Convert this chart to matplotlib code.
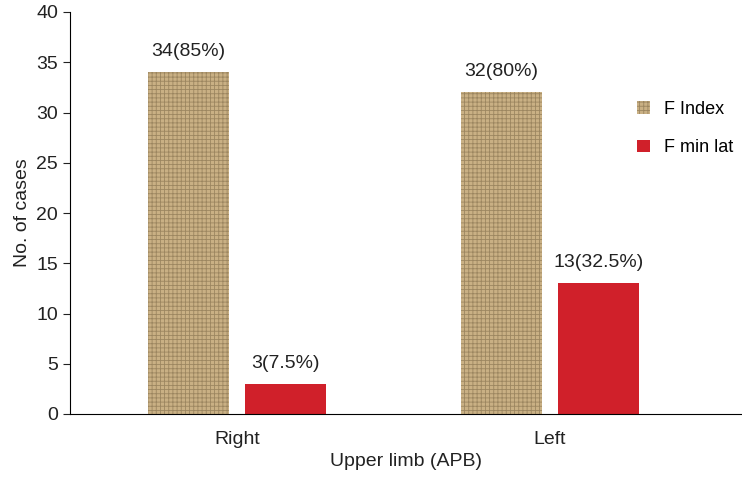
import matplotlib
matplotlib.use("Agg")
import matplotlib.pyplot as plt
import numpy as np

plt.rcParams['font.family'] = 'Liberation Sans'
plt.rcParams['hatch.color'] = '#8a7550'
plt.rcParams['hatch.linewidth'] = 0.6

categories = ["Right", "Left"]
f_index = [34, 32]
f_min_lat = [3, 13]
f_index_labels = ["34(85%)", "32(80%)"]
f_min_lat_labels = ["3(7.5%)", "13(32.5%)"]

fig = plt.figure(figsize=(7.42, 4.93), dpi=100)
ax = fig.add_axes([70/742, 1-414/493, 672/742, (414-12)/493])
x = np.arange(len(categories))
w = 0.26
off = 0.155
b1 = ax.bar(x - off, f_index, w, color='#c9b084', hatch='++++', edgecolor='#9c8660', linewidth=0, label='F Index')
b2 = ax.bar(x + off, f_min_lat, w, color='#d0202a', label='F min lat')
for xi, v, t in zip(x - off, f_index, f_index_labels):
    ax.text(xi, v + 1.2, t, ha='center', va='bottom', fontsize=14, color='#222')
for xi, v, t in zip(x + off, f_min_lat, f_min_lat_labels):
    ax.text(xi, v + 1.2, t, ha='center', va='bottom', fontsize=14, color='#222')
ax.set_xlim(-0.535, 1.615)
ax.set_ylim(0, 40)
ax.set_yticks(range(0, 41, 5))
ax.set_xticks(x)
ax.set_xticklabels(categories)
ax.tick_params(labelsize=14, colors='#222', length=5)
ax.tick_params(axis='x', length=0, pad=12)
ax.set_xlabel("Upper limb (APB)", fontsize=14, color='#222')
ax.set_ylabel("No. of cases", fontsize=14, color='#222')
for s in ['top', 'right']:
    ax.spines[s].set_visible(False)
ax.legend(loc='upper left', bbox_to_anchor=(0.82, 0.82), frameon=False, fontsize=13,
          handlelength=0.7, handleheight=0.7, labelspacing=1.2)
fig.savefig("out.png", dpi=100)
